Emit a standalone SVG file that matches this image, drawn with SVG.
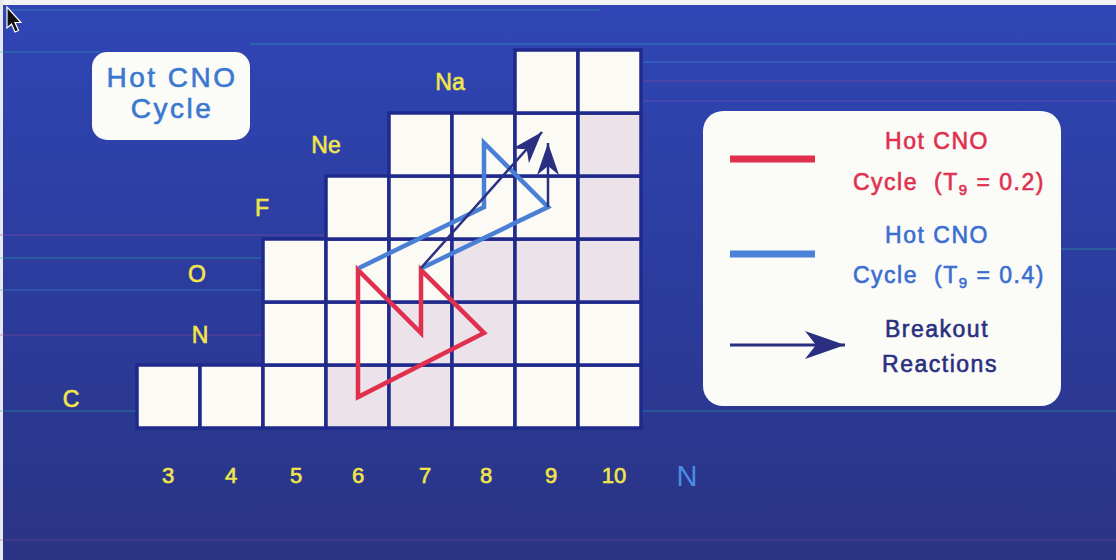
<svg xmlns="http://www.w3.org/2000/svg" width="1116" height="560" viewBox="0 0 1116 560">
<defs>
<linearGradient id="bg" x1="0" y1="0" x2="0" y2="1">
<stop offset="0" stop-color="#3046b6"/>
<stop offset="0.45" stop-color="#2c3da0"/>
<stop offset="1" stop-color="#2a3484"/>
</linearGradient>
<marker id="ahs" viewBox="0 0 32 22" refX="32" refY="11" markerWidth="32" markerHeight="22" markerUnits="userSpaceOnUse" orient="auto">
<path d="M0,0 L32,11 L0,22 L9,11 Z" fill="#2a2f82"/>
</marker>
<marker id="ahl" viewBox="0 0 40 28" refX="40" refY="14" markerWidth="40" markerHeight="28" markerUnits="userSpaceOnUse" orient="auto">
<path d="M0,0 L40,14 L0,28 L11,14 Z" fill="#2a2f82"/>
</marker>
</defs>
<style>
text{font-family:"Liberation Sans",Arial,sans-serif;stroke-width:0.6px;paint-order:stroke}
.el{fill:#f2e64a;stroke:#f2e64a;font-size:23px;text-anchor:middle}
.ax{fill:#f2e64a;stroke:#f2e64a;font-size:22px;text-anchor:middle}
.cw{fill:#fbfaf5;stroke:#1f2a8c;stroke-width:3.5}
.cp{fill:#ebe2ea;stroke:#1f2a8c;stroke-width:3.5}
.streak{stroke-width:1.5;opacity:0.35;fill:none}
.lg{font-size:23px;letter-spacing:1.5px}
.red{fill:#e0304e;stroke:#e0304e}
.blu{fill:#3a6ed0;stroke:#3a6ed0}
.nav{fill:#2a2f80;stroke:#2a2f80}
.tt{fill:#3a78d0;stroke:#3a78d0;font-size:28px;text-anchor:middle;letter-spacing:2.5px}
</style>
<g id="background">
<rect x="0" y="0" width="1116" height="560" fill="url(#bg)"/>
<rect x="0" y="0" width="1116" height="5" fill="#f2f2f2"/>
<rect x="0" y="0" width="3" height="560" fill="#e8e8ee"/>
<line class="streak" x1="5" y1="10" x2="600" y2="10" stroke="#2fb3a4"/>
<line class="streak" x1="250" y1="44" x2="1116" y2="44" stroke="#2fb3a4"/>
<line class="streak" x1="0" y1="52" x2="100" y2="52" stroke="#2fb3a4"/>
<line class="streak" x1="640" y1="62" x2="1116" y2="62" stroke="#3a9ad0"/>
<line class="streak" x1="640" y1="81" x2="1116" y2="81" stroke="#9a4a9a"/>
<line class="streak" x1="640" y1="101" x2="1116" y2="101" stroke="#7a5aa8"/>
<line class="streak" x1="0" y1="235" x2="330" y2="235" stroke="#9a4a9a"/>
<line class="streak" x1="0" y1="258" x2="265" y2="258" stroke="#2fb3a4"/>
<line class="streak" x1="1060" y1="249" x2="1116" y2="249" stroke="#2fb3a4"/>
<line class="streak" x1="0" y1="290" x2="265" y2="290" stroke="#3a9ad0"/>
<line class="streak" x1="0" y1="335" x2="265" y2="335" stroke="#9a4a9a"/>
<line class="streak" x1="0" y1="411" x2="1116" y2="411" stroke="#2fb3a4"/>
<line class="streak" x1="0" y1="540" x2="1116" y2="540" stroke="#8a4a9a"/>
</g>
<g id="cursor">
<path d="M7,7 L7,28 L11.5,24 L15,32 L18.5,30.5 L15,22.5 L21,22.5 Z" fill="#111" stroke="#fff" stroke-width="1.2"/>
</g>
<g id="title">
<rect x="92" y="52" width="158" height="88" rx="15" fill="#fbfbf8"/>
<text class="tt" x="172" y="87">Hot CNO</text>
<text class="tt" x="172" y="118">Cycle</text>
</g>
<g id="chart">
<rect id="c3-6" class="cw" x="137" y="365" width="63" height="63" fill="#f6f3ea"/>
<rect id="c4-6" class="cw" x="200" y="365" width="63" height="63"/>
<rect id="c5-6" class="cw" x="263" y="365" width="63" height="63"/>
<rect id="c6-6" class="cp" x="326" y="365" width="63" height="63"/>
<rect id="c7-6" class="cp" x="389" y="365" width="63" height="63"/>
<rect id="c8-6" class="cw" x="452" y="365" width="63" height="63"/>
<rect id="c9-6" class="cw" x="515" y="365" width="63" height="63"/>
<rect id="c10-6" class="cw" x="578" y="365" width="63" height="63"/>
<rect id="c5-7" class="cw" x="263" y="302" width="63" height="63"/>
<rect id="c6-7" class="cw" x="326" y="302" width="63" height="63"/>
<rect id="c7-7" class="cp" x="389" y="302" width="63" height="63"/>
<rect id="c8-7" class="cp" x="452" y="302" width="63" height="63"/>
<rect id="c9-7" class="cw" x="515" y="302" width="63" height="63"/>
<rect id="c10-7" class="cw" x="578" y="302" width="63" height="63"/>
<rect id="c5-8" class="cw" x="263" y="239" width="63" height="63"/>
<rect id="c6-8" class="cw" x="326" y="239" width="63" height="63"/>
<rect id="c7-8" class="cw" x="389" y="239" width="63" height="63"/>
<rect id="c8-8" class="cp" x="452" y="239" width="63" height="63"/>
<rect id="c9-8" class="cp" x="515" y="239" width="63" height="63"/>
<rect id="c10-8" class="cp" x="578" y="239" width="63" height="63"/>
<rect id="c6-9" class="cw" x="326" y="176" width="63" height="63"/>
<rect id="c7-9" class="cw" x="389" y="176" width="63" height="63"/>
<rect id="c8-9" class="cw" x="452" y="176" width="63" height="63"/>
<rect id="c9-9" class="cw" x="515" y="176" width="63" height="63"/>
<rect id="c10-9" class="cp" x="578" y="176" width="63" height="63"/>
<rect id="c7-10" class="cw" x="389" y="113" width="63" height="63"/>
<rect id="c8-10" class="cw" x="452" y="113" width="63" height="63"/>
<rect id="c9-10" class="cw" x="515" y="113" width="63" height="63"/>
<rect id="c10-10" class="cp" x="578" y="113" width="63" height="63"/>
<rect id="c9-11" class="cw" x="515" y="50" width="63" height="63"/>
<rect id="c10-11" class="cw" x="578" y="50" width="63" height="63"/>
</g>
<g id="element-labels">
<text class="el" x="71" y="407">C</text>
<text class="el" x="200" y="343">N</text>
<text class="el" x="197" y="282">O</text>
<text class="el" x="262" y="216">F</text>
<text class="el" x="326" y="153">Ne</text>
<text class="el" x="450" y="90">Na</text>
</g>
<g id="axis-labels">
<text class="ax" x="168" y="483">3</text>
<text class="ax" x="231" y="483">4</text>
<text class="ax" x="296" y="483">5</text>
<text class="ax" x="358" y="483">6</text>
<text class="ax" x="425" y="483">7</text>
<text class="ax" x="486" y="483">8</text>
<text class="ax" x="551" y="483">9</text>
<text class="ax" x="614" y="483">10</text>
<text x="687" y="486" font-size="29" fill="#4a8ee0" text-anchor="middle">N</text>
</g>
<g id="connectors" fill="none" stroke-linejoin="miter">
<path id="red-cycle" d="M358,397 L358,270 L421,333 L421,270 L484,333 Z" stroke="#e0304e" stroke-width="4.5"/>
<path id="blue-cycle" d="M359,268 L484,207 L484,143 L548,207 L422,268" stroke="#4a7fd6" stroke-width="4.5"/>
<line id="breakout-1" x1="421" y1="268" x2="542" y2="132" stroke="#2a2f82" stroke-width="2.5" marker-end="url(#ahs)"/>
<line id="breakout-2" x1="548" y1="207" x2="548" y2="143" stroke="#2a2f82" stroke-width="2.5" marker-end="url(#ahs)"/>
</g>
<g id="legend">
<rect x="703" y="111" width="358" height="295" rx="20" fill="#fbfbf8"/>
<line x1="730" y1="159" x2="815" y2="159" stroke="#e0304e" stroke-width="7"/>
<line x1="730" y1="254" x2="815" y2="254" stroke="#4a82d8" stroke-width="7"/>
<line x1="730" y1="345" x2="845" y2="345" stroke="#2a2f82" stroke-width="3" marker-end="url(#ahl)"/>
<text class="lg red" x="937" y="149" text-anchor="middle">Hot CNO</text>
<text class="lg red" y="190"><tspan x="853">Cycle</tspan><tspan x="934">(T</tspan><tspan font-size="15" dy="5">9</tspan><tspan dy="-5"> = 0.2)</tspan></text>
<text class="lg blu" x="937" y="243" text-anchor="middle">Hot CNO</text>
<text class="lg blu" y="283"><tspan x="853">Cycle</tspan><tspan x="934">(T</tspan><tspan font-size="15" dy="5">9</tspan><tspan dy="-5"> = 0.4)</tspan></text>
<text class="lg nav" x="937" y="337" text-anchor="middle">Breakout</text>
<text class="lg nav" x="940" y="372" text-anchor="middle">Reactions</text>
</g>
</svg>
